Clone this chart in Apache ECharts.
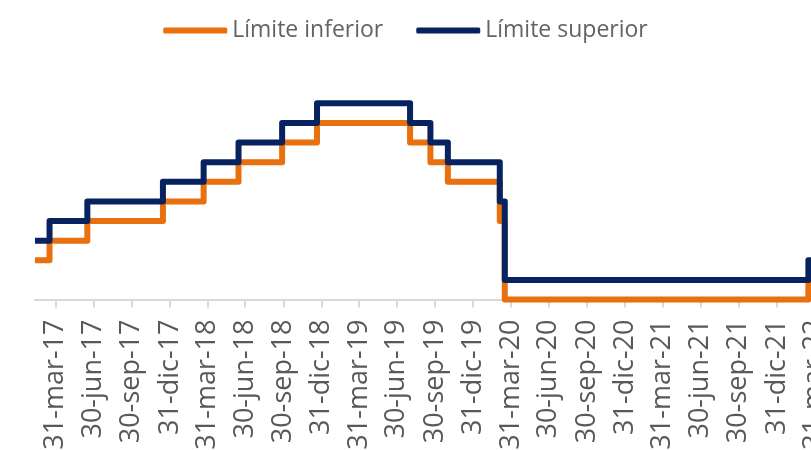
<!DOCTYPE html>
<html>
<head>
<meta charset="utf-8">
<script src="https://cdn.jsdelivr.net/npm/echarts@6/dist/echarts.min.js"></script>
<style>
html,body{margin:0;padding:0;background:#fff;}
#c{width:811px;height:450px;}
</style>
</head>
<body>
<div id="c"></div>
<script>
// Fechas de cambio del rango objetivo y niveles (%)
var changeDates = ['2017-02-09','2017-03-16','2017-06-15','2017-12-14','2018-03-22','2018-06-14','2018-09-27','2018-12-20','2019-08-01','2019-09-19','2019-10-31','2020-03-04','2020-03-16','2022-03-17','2022-06-30'];
var lowerLimit = [0.50,0.75,1.00,1.25,1.50,1.75,2.00,2.25,2.00,1.75,1.50,1.00,0.00,0.25,0.25];
var upperLimit = [0.75,1.00,1.25,1.50,1.75,2.00,2.25,2.50,2.25,2.00,1.75,1.25,0.25,0.50,0.50];
// Etiquetas del eje (fin de trimestre)
var tickDates = ['2017-03-31','2017-06-30','2017-09-30','2017-12-31','2018-03-31','2018-06-30','2018-09-30','2018-12-31','2019-03-31','2019-06-30','2019-09-30','2019-12-31','2020-03-31','2020-06-30','2020-09-30','2020-12-31','2021-03-31','2021-06-30','2021-09-30','2021-12-31','2022-03-31'];
var seriesNames = ['Límite inferior','Límite superior'];
var monthNames = ['ene','feb','mar','abr','may','jun','jul','ago','sep','oct','nov','dic'];

function ts(s){var p=s.split('-');return new Date(+p[0],+p[1]-1,+p[2]).getTime();}
function pairs(vals){return changeDates.map(function(d,i){return [ts(d),vals[i]];});}
var tickValues = tickDates.map(ts);

var chart = echarts.init(document.getElementById('c'));
chart.setOption({
  animation:false,
  backgroundColor:'#ffffff',
  textStyle:{fontFamily:'"Open Sans", sans-serif'},
  legend:{
    top:14, left:'center', itemGap:33, itemWidth:64, itemHeight:6,
    icon:'roundRect',
    textStyle:{fontSize:23, color:'#636363', fontFamily:'"Open Sans", sans-serif'},
    data:seriesNames
  },
  grid:{left:35, top:64, height:235.5, width:817, containLabel:false, outerBoundsMode:'none'},
  xAxis:{
    type:'value',
    min:ts('2017-02-09'), max:ts('2022-06-30'),
    axisLine:{show:true, lineStyle:{color:'#D9D9D9', width:2}},
    axisTick:{show:true, length:8, lineStyle:{color:'#D9D9D9', width:2}, customValues:tickValues},
    axisLabel:{
      customValues:tickValues, rotate:90, margin:20, fontSize:27, color:'#595959',
      fontFamily:'"Open Sans", sans-serif',
      formatter:function(v){var d=new Date(v);var y=String(d.getFullYear()).slice(2);return d.getDate()+'-'+monthNames[d.getMonth()]+'-'+y;}
    },
    splitLine:{show:false}
  },
  yAxis:{
    type:'value', min:0, max:3,
    axisLine:{show:false}, axisTick:{show:false}, axisLabel:{show:false}, splitLine:{show:false}
  },
  series:[
    {name:seriesNames[0], type:'line', step:'end', showSymbol:false, symbol:'none', clip:false,
     data:pairs(lowerLimit), color:'#E8700E', lineStyle:{width:6, color:'#E8700E', join:'round'}},
    {name:seriesNames[1], type:'line', step:'end', showSymbol:false, symbol:'none', clip:false,
     data:pairs(upperLimit), color:'#06235F', lineStyle:{width:6, color:'#06235F', join:'round'}}
  ]
});
</script>
</body>
</html>
